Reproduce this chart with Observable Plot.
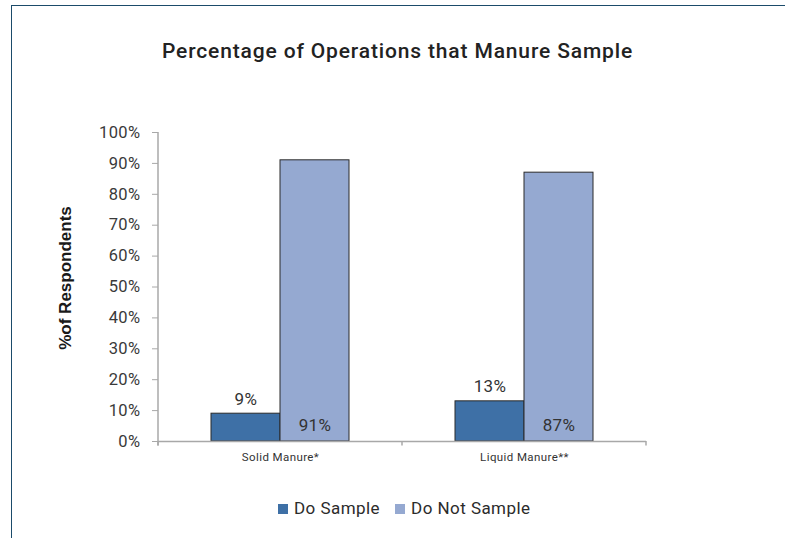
<!DOCTYPE html>
<html>
<head>
<meta charset="utf-8">
<script src="https://cdn.jsdelivr.net/npm/d3@7"></script>
<script src="https://cdn.jsdelivr.net/npm/@observablehq/plot@0.6"></script>
<style>
  html, body { margin: 0; padding: 0; background: #fff; }
  #wrap { position: relative; width: 785px; height: 538px; overflow: hidden; font-family: Roboto, sans-serif; }
  #frame { position: absolute; left: 11px; top: 4.5px; right: -5px; bottom: -5px;
           border-left: 1.5px solid #1b4b6a; border-top: 1.5px solid #1b4b6a; }
  #title { position: absolute; left: 0; width: 795px; top: 41px; text-align: center;
           font: 500 21px/1 Roboto, sans-serif; color: #222; letter-spacing: 0.85px; }
  #ylabel { position: absolute; left: 65px; top: 278px; transform: translate(-50%, -50%) rotate(-90deg);
            font: bold 17px/1 "Liberation Sans", Arial, sans-serif; color: #1a1a1a; white-space: nowrap; }
  #chart { position: absolute; left: 0; top: 100px; }
  #chart svg text { letter-spacing: 0.4px; }
  #legend { position: absolute; left: 278px; top: 500px; display: flex; align-items: center;
            font: 400 17px/17px Roboto, sans-serif; color: #2b2b2b; white-space: nowrap; letter-spacing: 0.45px; }
  .sw { display: inline-block; width: 10px; height: 10px; margin-right: 6px; }
  .item { display: flex; align-items: center; margin-right: 15px; }
</style>
</head>
<body>
<div id="wrap">
  <div id="frame"></div>
  <div id="title"></div>
  <div id="ylabel"></div>
  <div id="chart"></div>
  <div id="legend"></div>
</div>
<script>
const titleText = "Percentage of Operations that Manure Sample";
const yAxisLabel = "%of Respondents";
const categories = ["Solid Manure*", "Liquid Manure**"];
const series = ["Do Sample", "Do Not Sample"];
const doSample = [9, 13];
const doNotSample = [91, 87];
const yTicks = [0, 10, 20, 30, 40, 50, 60, 70, 80, 90, 100];
const colors = ["#3e70a6", "#95a9d1"];

const data = categories.flatMap((c, i) => [
  {category: c, series: series[0], value: doSample[i]},
  {category: c, series: series[1], value: doNotSample[i]}
]);

document.getElementById("title").textContent = titleText;
document.getElementById("ylabel").textContent = yAxisLabel;

const chart = Plot.plot({
  width: 785,
  height: 380,
  marginLeft: 158,
  marginRight: 139,
  marginTop: 32,
  marginBottom: 39,
  style: {fontFamily: "Roboto, sans-serif", background: "transparent", overflow: "visible"},
  fx: {domain: categories, paddingInner: 0, paddingOuter: 0, label: null},
  x: {domain: series, paddingInner: 0, paddingOuter: 0.7429, axis: null},
  y: {domain: [0, 100], label: null},
  color: {domain: series, range: colors},
  marks: [
    Plot.axisY({ticks: yTicks, tickFormat: d => d + "%", tickSize: 6, tickPadding: 12,
                fontSize: 16.5, stroke: "#a8a8a8", fill: "#3a3a3a", label: null}),
    Plot.axisFx({anchor: "bottom", tickSize: 0, tickPadding: 11, fontSize: 11.5,
                 fill: "#333", label: null}),
    Plot.barY(data, {fx: "category", x: "series", y: "value", fill: "series",
                     stroke: "#2a2a2a", strokeWidth: 1}),
    Plot.text(data.filter(d => d.series === series[0]),
              {fx: "category", x: "series", y: "value", text: d => d.value + "%",
               lineAnchor: "bottom", dy: -9, fontSize: 17, fill: "#333"}),
    Plot.text(data.filter(d => d.series === series[1]),
              {fx: "category", x: "series", y: 0, text: d => d.value + "%",
               lineAnchor: "bottom", dy: -11, fontSize: 17, fill: "#333"}),
    Plot.ruleY([0], {stroke: "#a8a8a8", strokeWidth: 1.5})
  ]
});

document.getElementById("chart").appendChild(chart);

// axis line and category boundary ticks from the library's scales
const fx = chart.scale("fx");
const ys = chart.scale("y");
const svg = d3.select(chart);
const y0 = ys.apply(0), y100 = ys.apply(100);
const x0 = fx.apply(categories[0]);
svg.append("line").attr("x1", x0).attr("x2", x0).attr("y1", y100).attr("y2", y0 + 4.5)
  .attr("stroke", "#a8a8a8").attr("stroke-width", 1.5);
const bounds = [];
categories.forEach(c => { bounds.push(fx.apply(c)); bounds.push(fx.apply(c) + fx.bandwidth); });
[...new Set(bounds.map(b => Math.round(b * 10) / 10))].forEach(b => {
  svg.append("line").attr("x1", b).attr("x2", b).attr("y1", y0).attr("y2", y0 + 4.5)
    .attr("stroke", "#a8a8a8").attr("stroke-width", 1.5);
});

// legend
const legend = d3.select("#legend");
series.forEach((s, i) => {
  const item = legend.append("div").attr("class", "item");
  item.append("span").attr("class", "sw").style("background", colors[i]);
  item.append("span").text(s);
});
</script>
</body>
</html>
